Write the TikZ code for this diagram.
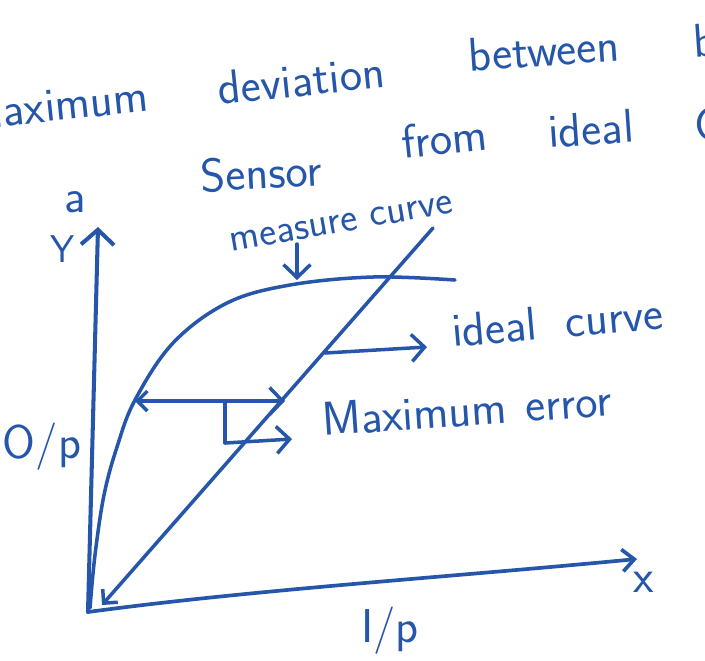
\documentclass[tikz,border=0pt]{standalone}
\usetikzlibrary{arrows.meta}
\definecolor{ink}{RGB}{38,86,170}
\begin{document}
\begin{tikzpicture}[x=0.02cm, y=-0.02cm,
    pen/.style={draw=ink, line width=2pt, line cap=round, line join=round},
    barb/.style={-{Straight Barb[length=2.6mm, width=5.4mm]}},
    txt/.style={text=ink, inner sep=0pt, font=\sffamily\fontsize{27}{30}\selectfont},
    small/.style={txt, font=\sffamily\fontsize{23}{26}\selectfont}]
    \useasboundingbox (0,0) rectangle (705,660);
    \clip (0,0) rectangle (705,660);

    % heading, cut off at both sides
    \node[txt, rotate=6, anchor=base east] (w1) at (150,111) {maximum};
    \node[txt, rotate=6, anchor=base] (w2) at (303,96) {deviation};
    \node[txt, rotate=4, anchor=base] (w3) at (545,66) {between};
    \node[txt, rotate=4, anchor=base west] (w4) at (694,58) {b};
    \node[txt, rotate=3, anchor=base] (w5) at (262,189) {Sensor};
    \node[txt, rotate=6, anchor=base] (w6) at (446,154) {from};
    \node[txt, rotate=4, anchor=base] (w7) at (592,145) {ideal};
    \node[txt, anchor=base west] (w8) at (694,140) {Curve};

    % axes
    \coordinate (O) at (88,612);
    \coordinate (ytop) at (98,227);
    \coordinate (xend) at (637,559);
    \draw[pen, line width=2.3pt, -{Straight Barb[length=3mm, width=6.6mm]}] (O) -- (ytop);
    \draw[pen, line width=2.1pt, -{Straight Barb[length=2.4mm, width=4.4mm]}] (O) .. controls (250,590) and (450,577) .. (xend);
    \node[txt, anchor=base] (alab) at (75,212) {a};
    \node[txt, anchor=base, font=\sffamily\fontsize{22}{24}\selectfont] (ylab) at (63,262) {Y};
    \node[txt, anchor=base] (xlab) at (644,592) {x};
    \node[txt, anchor=base] (olab) at (42,458) {O/p};
    \node[txt, anchor=base] (ilab) at (390,642) {I/p};

    % ideal line and measured curve
    \coordinate (ltop) at (433,228);
    \coordinate (lbot) at (102,605);
    \draw[pen, -{Straight Barb[length=2mm, width=4mm]}] (ltop) -- (lbot);
    \draw[pen] plot[smooth, tension=0.6] coordinates {(90,608) (95,555) (104,495) (117,447) (135,400) (173,343) (227,303) (290,285) (373,277) (455,280)};

    % labels
    \node[small, rotate=10, anchor=base] (mlab) at (343,232) {measure curve};
    \coordinate (ma) at (297,244);
    \coordinate (mb) at (297,280);
    \draw[pen, barb] (ma) -- (mb);

    \node[txt, rotate=5, anchor=base west] (ilab2) at (453,347) {ideal\hspace{0.6em}curve};
    \coordinate (ia) at (325,353);
    \coordinate (ib) at (427,347);
    \draw[pen, barb] (ia) -- (ib);

    % maximum error
    \coordinate (eL) at (135,401);
    \coordinate (eR) at (285,401);
    \draw[pen, {Straight Barb[length=2.6mm, width=5.4mm]}-{Straight Barb[length=2mm, width=4mm]}] (eR) -- (eL);
    \coordinate (b1) at (225,402);
    \coordinate (b2) at (225,443);
    \coordinate (b3) at (292,439);
    \draw[pen] (b1) -- (b2);
    \draw[pen, barb] (b2) -- (b3);
    \node[txt, rotate=4, anchor=base west] (elab) at (323,436) {Maximum\hspace{0.4em}error};
\end{tikzpicture}
\end{document}
